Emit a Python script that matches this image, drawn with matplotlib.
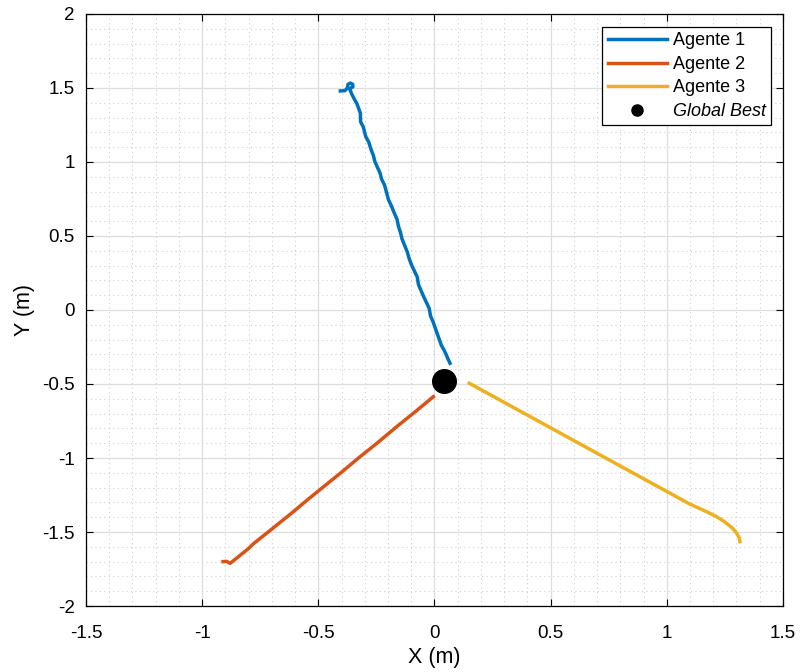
import matplotlib.pyplot as plt
from matplotlib.lines import Line2D
from matplotlib.ticker import MultipleLocator

plt.rcParams['font.family'] = ['Liberation Sans', 'DejaVu Sans']

# trayectorias (m)
x1 = [-0.405, -0.385, -0.375, -0.372, -0.362, -0.352, -0.351, -0.360, -0.364, -0.357,
      -0.345, -0.334, -0.326, -0.319, -0.318, -0.306, -0.296, -0.283, -0.272, -0.263,
      -0.257, -0.245, -0.234, -0.228, -0.215, -0.206, -0.198, -0.185, -0.173, -0.161,
      -0.155, -0.146, -0.140, -0.128, -0.117, -0.108, -0.098, -0.086, -0.074, -0.069,
      -0.058, -0.047, -0.035, -0.023, -0.017, -0.006, 0.003, 0.012, 0.021, 0.030,
      0.041, 0.050, 0.058, 0.067]
y1 = [1.480, 1.482, 1.500, 1.525, 1.533, 1.525, 1.508, 1.500, 1.490, 1.462,
      1.425, 1.395, 1.360, 1.330, 1.272, 1.235, 1.172, 1.135, 1.080, 1.045,
      1.005, 0.962, 0.925, 0.885, 0.845, 0.792, 0.745, 0.702, 0.655, 0.612,
      0.565, 0.522, 0.482, 0.435, 0.392, 0.342, 0.302, 0.262, 0.222, 0.172,
      0.132, 0.092, 0.052, 0.012, -0.040, -0.080, -0.120, -0.160, -0.200, -0.240,
      -0.270, -0.300, -0.330, -0.360]

x2 = [-0.910, -0.895, -0.880, -0.840, -0.800, -0.780, -0.700, -0.620, -0.540,
      -0.493, -0.400, -0.320, -0.249, -0.160, -0.080, -0.005]
y2 = [-1.700, -1.698, -1.712, -1.662, -1.611, -1.580, -1.480, -1.379, -1.274,
      -1.214, -1.096, -0.991, -0.902, -0.785, -0.684, -0.586]

x3 = [0.150, 0.300, 0.500, 0.700, 0.900, 1.028, 1.100, 1.172, 1.215, 1.250, 1.280, 1.300, 1.312, 1.315]
y3 = [-0.495, -0.624, -0.796, -0.968, -1.140, -1.250, -1.312, -1.363, -1.397, -1.432, -1.470, -1.505, -1.540, -1.565]

gbest = [0.041, -0.48]

xticks = [-1.5, -1, -0.5, 0, 0.5, 1, 1.5]
yticks = [-2, -1.5, -1, -0.5, 0, 0.5, 1, 1.5, 2]

fig = plt.figure(figsize=(8.01, 6.72), dpi=100)
ax = fig.add_axes([0.1074, 0.0982, 0.870, 0.881])

ax.plot(x1, y1, color='#0072BD', lw=2.5, label='Agente 1')
ax.plot(x2, y2, color='#D95319', lw=2.5, label='Agente 2')
ax.plot(x3, y3, color='#EDB120', lw=2.5, label='Agente 3')
ax.plot(gbest[0], gbest[1], 'o', color='k', ms=17)

ax.set_xlim(-1.5, 1.5)
ax.set_ylim(-2, 2)
ax.xaxis.set_minor_locator(MultipleLocator(0.1))
ax.yaxis.set_minor_locator(MultipleLocator(0.1))
ax.set_xticks(xticks)
ax.set_xticklabels(['%g' % v for v in xticks])
ax.set_yticks(yticks)
ax.set_yticklabels(['%g' % v for v in yticks])
ax.tick_params(which='both', direction='in', top=True, right=True, labelsize=13.5)
ax.tick_params(which='minor', length=0)
ax.tick_params(which='major', length=5, width=0.8)
ax.tick_params(axis='x', which='major', pad=14)
ax.tick_params(axis='y', which='major', pad=8)

ax.grid(which='major', color='#dedede', lw=0.9)
ax.grid(which='minor', color='#cfcfcf', lw=0.8, ls=(0, (1, 3)))
ax.set_axisbelow(True)
for s in ax.spines.values():
    s.set_linewidth(0.9)

ax.set_xlabel('X (m)', fontsize=15.5, labelpad=3)
ax.set_ylabel('Y (m)', fontsize=15.5, labelpad=5)

handles, labels = ax.get_legend_handles_labels()
handles.append(Line2D([], [], marker='o', ls='none', color='k', ms=8))
labels.append('Global Best')
leg = ax.legend(handles, labels, loc='upper right', bbox_to_anchor=(0.983, 0.978),
                borderaxespad=0, fancybox=False, edgecolor='k', framealpha=1,
                fontsize=13, handlelength=3.3, handletextpad=0.3, labelspacing=0.36,
                borderpad=0.3)
leg.get_frame().set_linewidth(0.9)
leg.get_texts()[-1].set_fontstyle('italic')

fig.savefig('out.png', dpi=100)
